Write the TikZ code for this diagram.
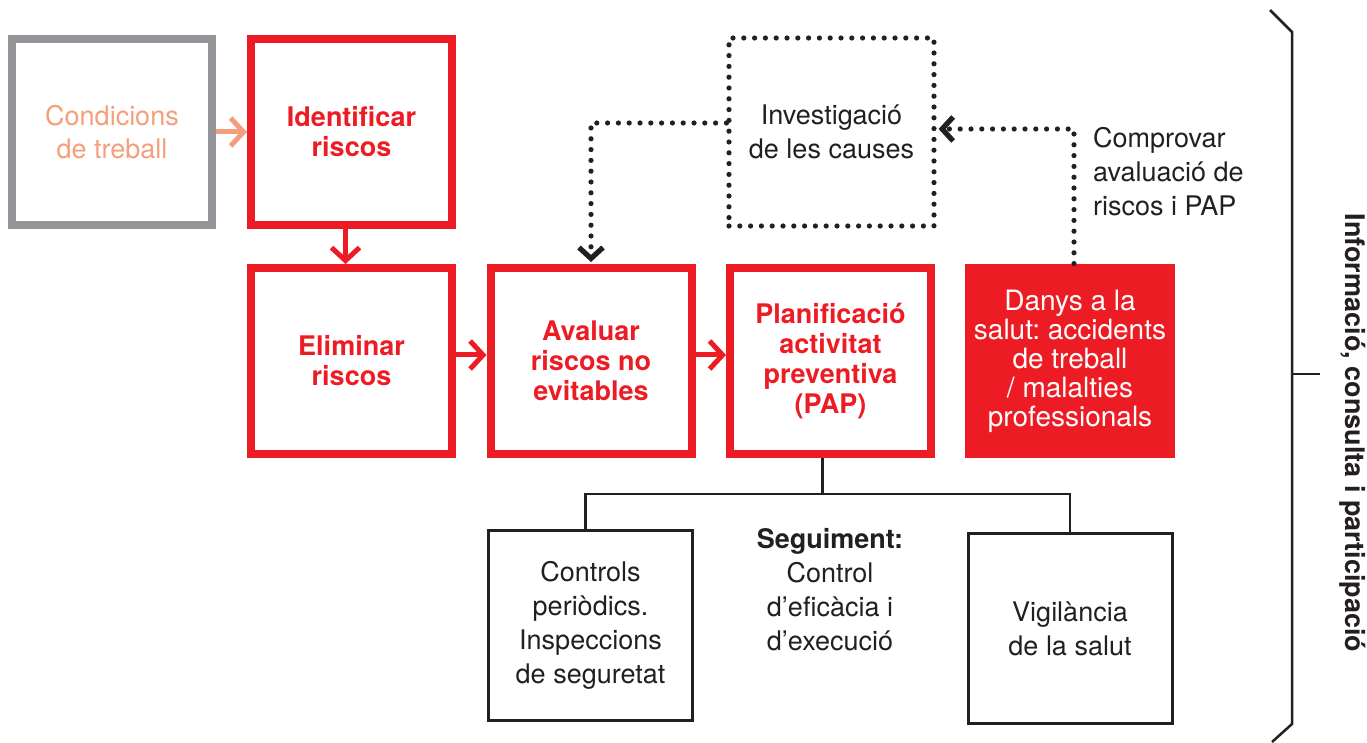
\documentclass[tikz,border=0pt]{standalone}
\usepackage{fontspec}
\setmainfont{TeX Gyre Heros}
\usetikzlibrary{arrows.meta}
\frenchspacing
\definecolor{vermell}{RGB}{237,28,36}
\definecolor{salmo}{RGB}{245,158,124}
\definecolor{gris}{RGB}{147,149,152}
\definecolor{negre}{RGB}{35,31,32}
\begin{document}
\begin{tikzpicture}[x=0.5pt,y=-0.5pt,
  caixa/.style={draw=vermell,line width=4pt,minimum width=100.5pt,minimum height=93pt,
    align=center,text=vermell,font=\fontsize{13.5}{15}\selectfont\bfseries},
  caixanegra/.style={draw=negre,line width=1.5pt,minimum width=102pt,minimum height=95pt,
    align=center,text=negre,font=\fontsize{13.5}{17}\selectfont},
  punts/.style={draw=negre,line width=2.6pt,line cap=round,dash pattern=on 0pt off 5.4pt},
  fletxa/.style={line width=2.5pt,-{Straight Barb[length=6.5pt,width=14pt]}},
  fletxapunts/.style={punts,-{Straight Barb[length=5.5pt,width=12pt]},shorten >=1pt},
  arbre/.style={draw=negre,line width=1.25pt}]
\useasboundingbox (0,0) rectangle (1367,743);
%fila de dalt
  \node[draw=gris,line width=4pt,minimum width=100pt,minimum height=93pt,align=center,
    text=salmo,font=\fontsize{13.5}{16.5}\selectfont] (cond) at (112,132) {Condicions\\de treball};
  \node[caixa] (ident) at (351.5,132) {Identificar\\riscos};
  \node[punts,minimum width=102.5pt,minimum height=94pt,align=center,text=negre,
    font=\fontsize{13.5}{17}\selectfont] (inv) at (831.5,132) {Investigació\\de les causes};
  \node[anchor=west,align=left,text=negre,font=\fontsize{13.5}{17}\selectfont] (comp) at (1086,172)
    {Comprovar\\avaluació de\\riscos i PAP};
%fila del mig
  \node[caixa] (elim) at (351.5,361) {Eliminar\\riscos};
  \node[caixa] (aval) at (591,361) {Avaluar\\riscos no\\evitables};
  \node[caixa] (plan) at (830.5,361) {Planificació\\activitat\\preventiva\\(PAP)};
  \node[fill=vermell,minimum width=105pt,minimum height=97pt,align=center,text=white,
    font=\fontsize{14}{14.5}\selectfont] (danys) at (1070,361)
    {Danys a la\\salut: accidents\\de treball\\/ malalties\\professionals};
%fila de baix
  \node[caixanegra] (ctrl) at (590.5,625.5) {Controls\\periòdics.\\Inspeccions\\de seguretat};
  \node[align=center,text=negre,font=\fontsize{13.5}{17}\selectfont] (segui) at (830,590)
    {\textbf{Seguiment:}\\Control\\d’eficàcia i\\d’execució};
  \node[caixanegra] (vig) at (1070,628.5) {Vigilància\\de la salut};
%fletxes
  \draw[fletxa,salmo] (cond) -- (ident);
  \draw[fletxa,vermell] ([xshift=-3pt]ident.south) -- ([xshift=-3pt]elim.north);
  \draw[fletxa,vermell] ([yshift=3pt]elim.east) -- ([yshift=3pt]aval.west);
  \draw[fletxa,vermell] ([yshift=3pt]aval.east) -- ([yshift=3pt]plan.west);
  \draw[fletxapunts] ([yshift=4.5pt]inv.west) -| (aval.north);
  \draw[fletxapunts] ([xshift=2pt]danys.north) |- ([yshift=1.5pt]inv.east);
%seguiment
  \draw[arbre] ([xshift=-4pt]plan.south) -- ++(0,36) coordinate (fork);
  \draw[arbre] ([xshift=-2.5pt]ctrl.north) |- (fork) -| (vig.north);
%clau
  \draw[arbre] (1270,10) -- (1292,32) -- (1292,724) -- (1272,742);
  \draw[arbre] (1292,374) -- (1320,374);
  \node[rotate=-90,text=negre,font=\fontsize{13.5}{16}\selectfont\bfseries] (info) at (1353,433)
    {Informació, consulta i participació};
\end{tikzpicture}
\end{document}
